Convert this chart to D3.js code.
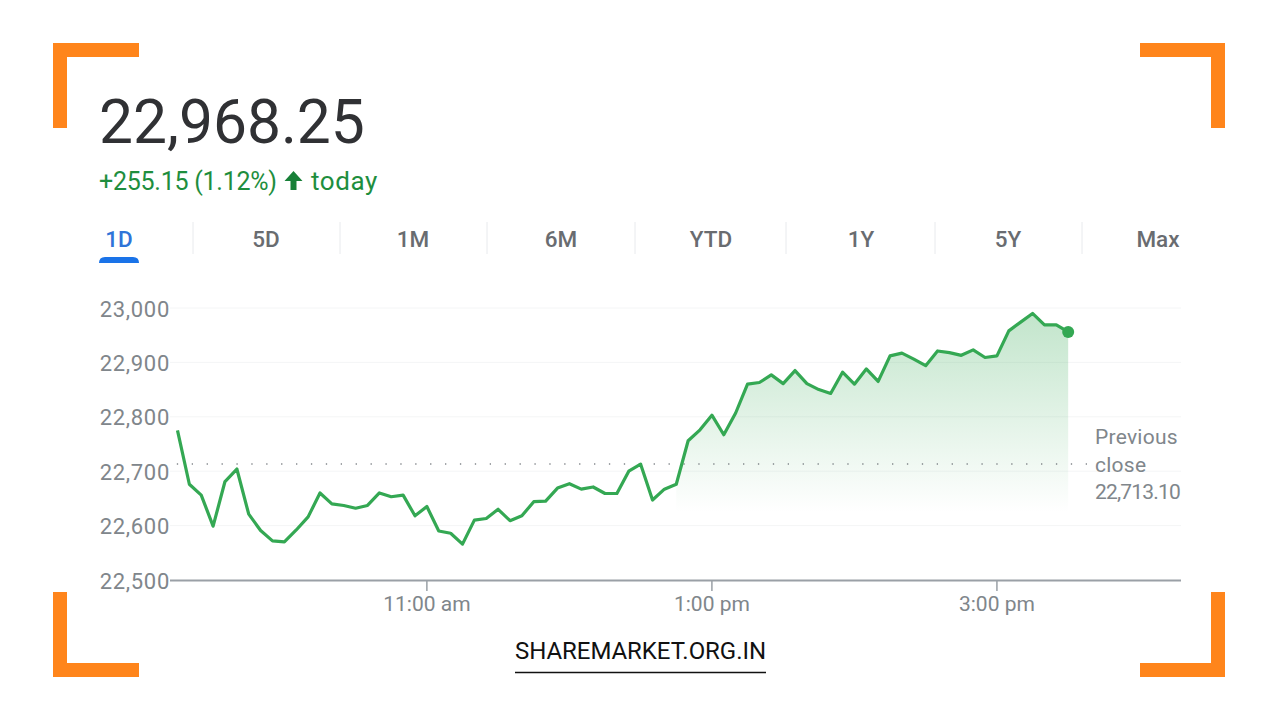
<!DOCTYPE html>
<html>
<head>
<meta charset="utf-8">
<script src="https://cdn.jsdelivr.net/npm/d3@7"></script>
<style>
html,body{margin:0;padding:0;background:#fff;overflow:hidden}
svg{display:block}
text{font-family:Roboto,"Noto Sans",sans-serif}
</style>
</head>
<body>
<svg id="c" width="1280" height="720"></svg>
<script>
const prices = [22775,22676,22656,22599,22681,22704,22621,22591,22572,22570,22592,22616,22660,22640,22637,22632,22637,22660,22653,22656,
22618,22635,22590,22586,22566,22610,22613,22630,22609,22618,22644,22645,22669,22677,22667,22671,22659,22659,22700,22713,
22647,22667,22676,22756,22776,22803,22767,22807,22860,22863,22877,22861,22885,22861,22850,22843,22882,22860,22888,22865,
22912,22917,22906,22894,22921,22918,22913,22923,22909,22912,22958,22974,22990,22969,22969,22956];
const startMinute = 555, stepMinutes = 5;
const minutes = prices.map((_, i) => startMinute + i * stepMinutes);
const yTicks = [22500,22600,22700,22800,22900,23000];
const xTickMinutes = [660,780,900];
const xTickLabels = ["11:00 am","1:00 pm","3:00 pm"];
const previousClose = 22713.10;
const previousCloseLines = ["Previous","close","22,713.10"];
const tabs = ["1D","5D","1M","6M","YTD","1Y","5Y","Max"];
const headline = "22,968.25";
const changeText = "+255.15 (1.12%)";
const changeSuffix = "today";
const footer = "SHAREMARKET.ORG.IN";

const svg = d3.select("#c");
const x = d3.scaleLinear().domain([551.85,977.5]).range([170,1181]);
const y = d3.scaleLinear().domain([22500,23000]).range([580,308]);

// corner brackets
const orange = "#ff851b";
[
 [53,43,86,14],[53,43,14,85],
 [1140,43,85,14],[1211,43,14,85],
 [53,663,86,14],[53,592,14,85],
 [1140,663,85,14],[1211,592,14,85]
].forEach(r => svg.append("rect").attr("x",r[0]).attr("y",r[1]).attr("width",r[2]).attr("height",r[3]).attr("fill",orange));

// header
svg.append("text").attr("x",99).attr("y",143).attr("font-size",60.5).attr("fill","#303134").text(headline);
const green = "#1e8e3e";
svg.append("text").attr("x",99).attr("y",190).attr("font-size",25).attr("letter-spacing",-0.25).attr("fill",green).text(changeText);
svg.append("path").attr("d","M293.5 171 L302.5 181 H296.5 V190 H290.5 V181 H284.5 Z").attr("fill","#188038");
svg.append("text").attr("x",311).attr("y",190).attr("font-size",26).attr("letter-spacing",0.6).attr("fill",green).text(changeSuffix);

// tabs
const tabX = [119,266,413,561,711,861,1008,1158];
const sepX = [193,340,487,635,786,935,1082];
svg.selectAll(".sep").data(sepX).join("line").attr("class","sep")
  .attr("x1",d=>d).attr("x2",d=>d).attr("y1",222).attr("y2",254).attr("stroke","#e8eaed").attr("stroke-width",1);
svg.selectAll(".tab").data(tabs).join("text").attr("class","tab")
  .attr("x",(d,i)=>tabX[i]).attr("y",247).attr("text-anchor","middle").attr("font-size",22.5).attr("font-weight",500)
  .attr("fill",(d,i)=>i===0?"#2f74d8":"#696c70").text(d=>d);
svg.append("path").attr("d","M99 263 Q99 257 105 257 H133 Q139 257 139 263 Z").attr("fill","#1a73e8");

// gradient
const defs = svg.append("defs");
const g = defs.append("linearGradient").attr("id","fade").attr("gradientUnits","userSpaceOnUse")
  .attr("x1",0).attr("x2",0).attr("y1",y(22990)).attr("y2",y(22625));
g.append("stop").attr("offset","0").attr("stop-color","#34a853").attr("stop-opacity",0.3);
g.append("stop").attr("offset","1").attr("stop-color","#34a853").attr("stop-opacity",0);

// grid lines
svg.selectAll(".grid").data(yTicks.slice(1)).join("line").attr("class","grid")
  .attr("x1",170).attr("x2",1181).attr("y1",d=>y(d)).attr("y2",d=>y(d)).attr("stroke","#f4f5f6").attr("stroke-width",1);

// area (only the final climb carries the wash) and reference
const pts = prices.map((v,i)=>[minutes[i],v]);
const fillStartIndex = 42;
svg.append("path").datum(pts.slice(fillStartIndex)).attr("fill","url(#fade)")
  .attr("d",d3.area().x(d=>x(d[0])).y0(y(22500)).y1(d=>y(d[1])));
svg.append("line").attr("x1",x(555)).attr("x2",1092).attr("y1",y(previousClose)).attr("y2",y(previousClose))
  .attr("stroke","#70757a").attr("stroke-width",1.6).attr("stroke-linecap","round").attr("stroke-dasharray","0 14.9");

// axes
const yAxis = d3.axisLeft(y).tickValues(yTicks).tickSize(0).tickPadding(0).tickFormat(d3.format(","));
const ya = svg.append("g").attr("transform","translate(170,1)").call(yAxis);
ya.select(".domain").remove();
ya.selectAll("text").attr("font-size",22).attr("letter-spacing",0.7).attr("fill","#80868b").attr("font-family","Roboto,sans-serif");

const xAxis = d3.axisBottom(x).offset(0).tickValues(xTickMinutes).tickSize(11).tickPadding(5).tickFormat((d,i)=>xTickLabels[i]);
const xa = svg.append("g").attr("transform","translate(0,580)").call(xAxis);
xa.select(".domain").attr("d","M170,0.5H1181").attr("stroke","#9aa0a6").attr("stroke-width",2);
xa.selectAll("line").attr("stroke","#9aa0a6").attr("stroke-width",1.5);
xa.selectAll("text").attr("font-size",21).attr("fill","#80868b").attr("font-family","Roboto,sans-serif");

// price line
const lineColor = "#34a853";
svg.append("path").datum(pts).attr("fill","none").attr("stroke",lineColor).attr("stroke-width",3.2).attr("stroke-linejoin","round")
  .attr("d",d3.line().x(d=>x(d[0])).y(d=>y(d[1])));
const last = pts[pts.length-1];
svg.append("circle").attr("cx",x(last[0])).attr("cy",y(last[1])).attr("r",6).attr("fill",lineColor);

// previous close
svg.selectAll(".pc").data(previousCloseLines).join("text").attr("class","pc")
  .attr("x",1095).attr("y",(d,i)=>444+i*27.5).attr("font-size",21).attr("letter-spacing",(d,i)=>i===2?-0.8:0.25).attr("fill","#80868b").text(d=>d);

// footer
svg.append("text").attr("x",515).attr("y",659).attr("font-size",24).attr("textLength",251).attr("lengthAdjust","spacing")
  .attr("font-family","Lato,sans-serif").attr("font-weight",400).attr("fill","#111").text(footer);
svg.append("line").attr("x1",515).attr("x2",766).attr("y1",672.5).attr("y2",672.5).attr("stroke","#111").attr("stroke-width",1.6);
</script>
</body>
</html>
